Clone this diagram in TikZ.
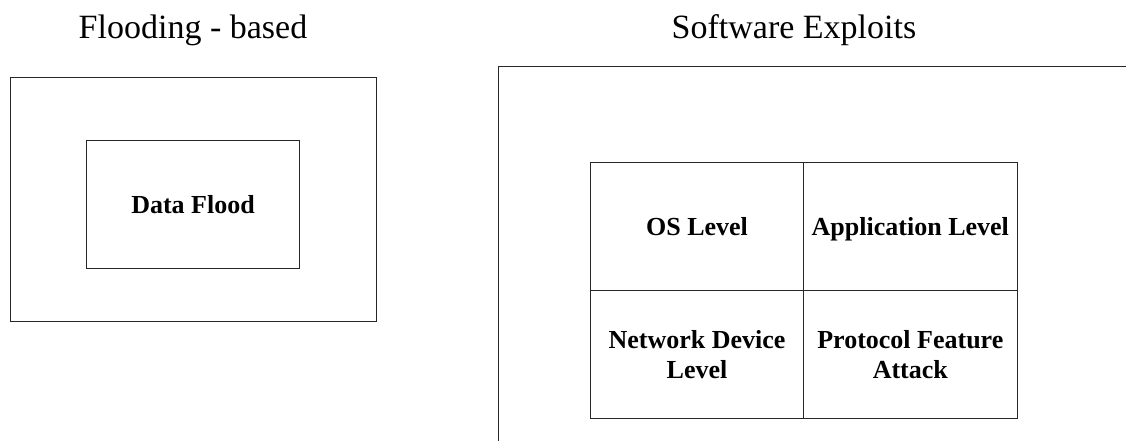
\documentclass[tikz,border=0pt]{standalone}
\usepackage{fontspec}
\setmainfont{Liberation Serif}
\tikzset{
  frame/.style={draw=black!85, line width=1pt, inner sep=0pt, outer sep=0pt, anchor=north west},
  title/.style={font=\fontsize{34}{40}\selectfont, inner sep=0pt, anchor=base},
  cell/.style={frame, align=center, font=\bfseries\fontsize{26}{30.6}\selectfont},
  oneline/.style={text height=17.6pt, text depth=0pt},
}
\begin{document}
\begin{tikzpicture}[x=1pt,y=-1pt]
\useasboundingbox[fill=white] (0,0) rectangle (1126,441);
\clip (0,0) rectangle (1126,441);
% left group
\node[title] (t1) at (193,39) {Flooding - based};
\node[frame, minimum width=366pt, minimum height=243pt] (outerL) at (10,78) {};
\node[cell, oneline, minimum width=212.6pt, minimum height=128pt] (flood) at (86.7,140.3) {Data Flood};
% right group
\node[title] (t2) at (794,38.5) {Software Exploits};
\node[frame, minimum width=700pt, minimum height=420pt] (outerR) at (498,66.7) {};
\node[cell, oneline, minimum width=212.6pt, minimum height=128pt] (os) at (590.7,162.7) {OS Level};
\node[cell, oneline, minimum width=214pt, minimum height=128pt] (app) at (803.3,162.7) {Application Level};
\node[cell, minimum width=212.6pt, minimum height=127.6pt] (net) at (590.7,290.7) {Network Device\\Level};
\node[cell, minimum width=214pt, minimum height=127.6pt] (proto) at (803.3,290.7) {Protocol Feature\\Attack};
\end{tikzpicture}
\end{document}
